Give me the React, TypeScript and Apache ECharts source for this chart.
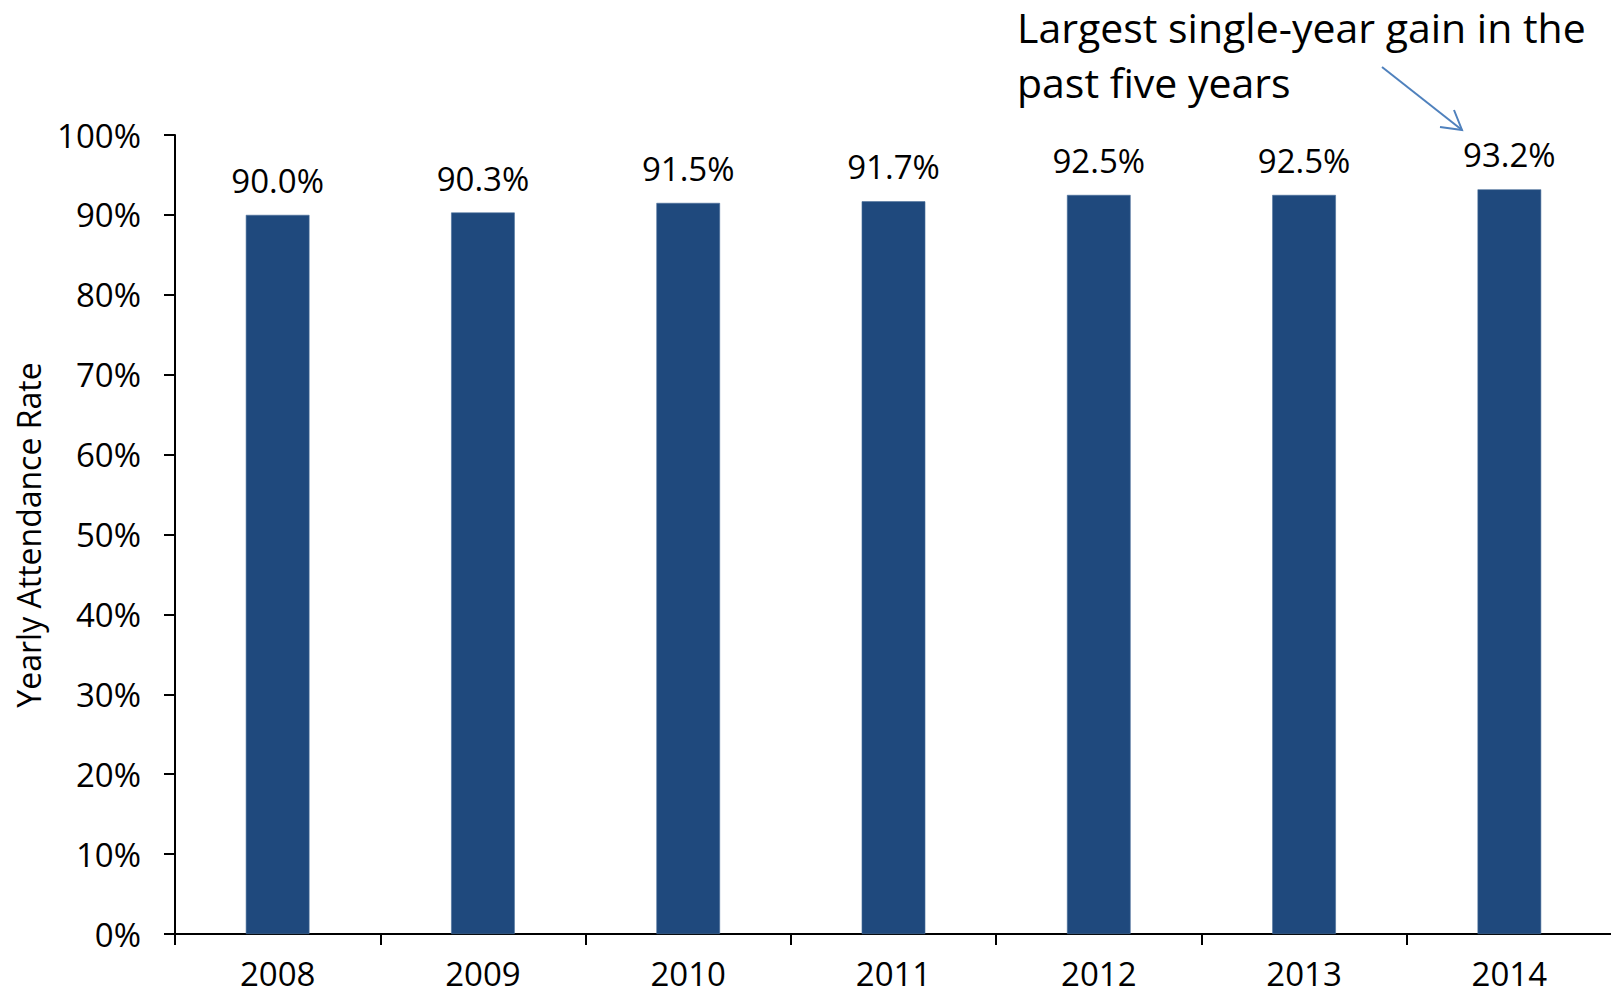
import React, { useEffect, useRef } from "react";
import * as echarts from "echarts";

const years = ["2008", "2009", "2010", "2011", "2012", "2013", "2014"];
const attendance = [90.0, 90.3, 91.5, 91.7, 92.5, 92.5, 93.2];
const yTicks = { min: 0, max: 100, interval: 10 };
const axisTitle = "Yearly Attendance Rate";
const noteLines = ["Largest single-year gain in the", "past five years"];

const FONT = "Open Sans";

export default function App() {
  const ref = useRef<HTMLDivElement>(null);
  useEffect(() => {
    if (!ref.current) return;
    const chart = echarts.init(ref.current, null, { renderer: "svg" });
    chart.setOption({
      animation: false,
      backgroundColor: "#ffffff",
      textStyle: { fontFamily: FONT, color: "#000" },
      grid: { left: 175, right: 7, top: 135, bottom: 65, containLabel: false },
      xAxis: {
        type: "category",
        data: years,
        boundaryGap: true,
        axisLine: { show: true, lineStyle: { color: "#000", width: 2 } },
        axisTick: { show: true, alignWithLabel: false, length: 11, lineStyle: { color: "#000", width: 2 } },
        axisLabel: { fontFamily: FONT, fontSize: 33, lineHeight: 28, color: "#000", margin: 25 },
      },
      yAxis: {
        type: "value",
        min: yTicks.min,
        max: yTicks.max,
        interval: yTicks.interval,
        splitLine: { show: false },
        axisLine: { show: true, lineStyle: { color: "#000", width: 2 } },
        axisTick: { show: true, length: 11, lineStyle: { color: "#000", width: 2 } },
        axisLabel: {
          fontFamily: FONT,
          fontSize: 33,
          color: "#000",
          margin: 34,
          formatter: "{value}%",
        },
      },
      series: [
        {
          type: "bar",
          data: attendance,
          barWidth: "31%",
          itemStyle: { color: "#1F497D", borderColor: "#4A6E9A", borderWidth: 0.6 },
          label: {
            show: true,
            position: "top",
            distance: 18,
            fontFamily: FONT,
            fontSize: 33,
            color: "#000",
            formatter: (p: any) => p.value.toFixed(1) + "%",
          },
        },
      ],
      graphic: [
        {
          type: "text",
          x: 28,
          y: 535,
          rotation: Math.PI / 2,
          style: {
            text: axisTitle,
            font: `32px "${FONT}"`,
            fill: "#000",
            align: "center",
            verticalAlign: "middle",
          },
        },
        {
          type: "text",
          x: 1017,
          y: -1,
          style: {
            text: noteLines.join("\n"),
            font: `41px "${FONT}"`,
            fill: "#000",
            lineHeight: 55,
            verticalAlign: "top",
          },
        },
        {
          type: "line",
          shape: { x1: 1382, y1: 67, x2: 1462, y2: 130 },
          style: { stroke: "#4F81BD", lineWidth: 2 },
        },
        {
          type: "polyline",
          shape: { points: [[1440, 127], [1462, 130], [1454, 110]] },
          style: { stroke: "#4F81BD", lineWidth: 2, fill: null },
        },
      ],
    });
    return () => chart.dispose();
  }, []);
  return <div ref={ref} style={{ width: 1619, height: 999, margin: -8 }} />;
}
